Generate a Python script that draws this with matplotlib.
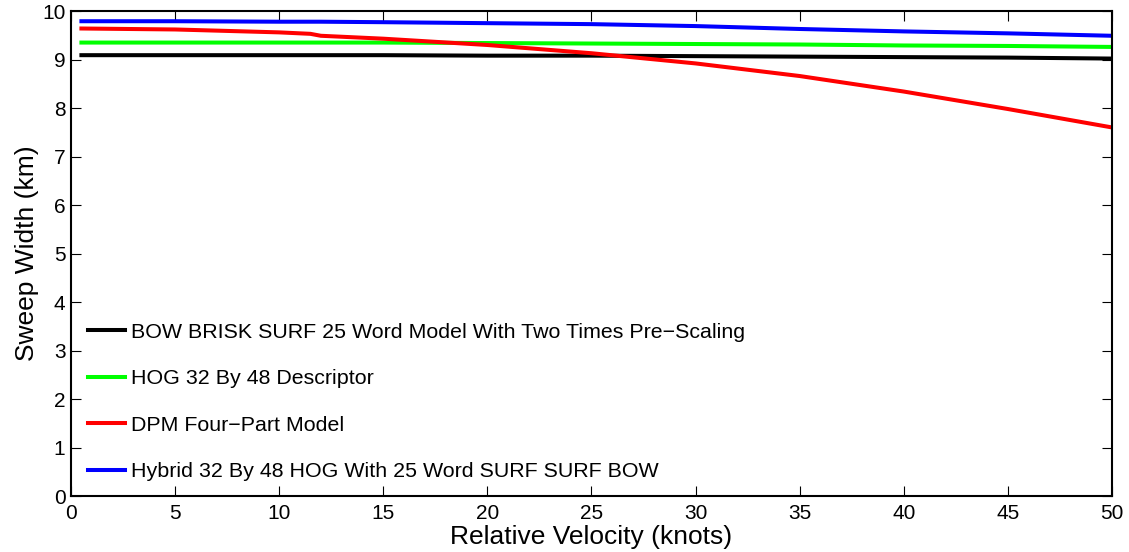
import matplotlib
matplotlib.use("Agg")
import matplotlib.pyplot as plt
import numpy as np

plt.rcParams["font.family"] = ["Liberation Sans", "DejaVu Sans"]

# values
velocity = [0.5, 5, 10, 11.5, 12, 15, 20, 25, 30, 35, 40, 45, 50]
bow_brisk = [9.09, 9.09, 9.09, 9.09, 9.09, 9.09, 9.08, 9.08, 9.07, 9.06, 9.05, 9.04, 9.02]
hog = [9.35, 9.35, 9.35, 9.35, 9.35, 9.35, 9.34, 9.33, 9.32, 9.31, 9.29, 9.28, 9.26]
dpm = [9.64, 9.62, 9.56, 9.53, 9.49, 9.43, 9.30, 9.13, 8.92, 8.66, 8.34, 7.98, 7.60]
hybrid = [9.79, 9.79, 9.78, 9.78, 9.78, 9.77, 9.75, 9.73, 9.69, 9.63, 9.58, 9.54, 9.49]

labels = [
    "BOW BRISK SURF 25 Word Model With Two Times Pre\u2212Scaling",
    "HOG 32 By 48 Descriptor",
    "DPM Four\u2212Part Model",
    "Hybrid 32 By 48 HOG With 25 Word SURF SURF BOW",
]
colors = ["black", "#00ff00", "red", "blue"]

fig = plt.figure(figsize=(11.29, 5.52), dpi=100)
ax = fig.add_axes([0.0629, 0.1014, 0.922, 0.8786])

for series, label, color in zip([bow_brisk, hog, dpm, hybrid], labels, colors):
    ax.plot(velocity, series, color=color, linewidth=2.9, label=label)

ax.set_xlim(0, 50)
ax.set_ylim(0, 10)
ax.set_xticks(np.arange(0, 51, 5))
ax.set_yticks(np.arange(0, 11, 1))
ax.tick_params(direction="in", top=True, right=True, length=7, width=0.8,
               labelsize=15, pad=4)
ax.tick_params(axis="x", pad=6)
for spine in ax.spines.values():
    spine.set_linewidth(1.5)

ax.set_xlabel("Relative Velocity (knots)", fontsize=19, labelpad=1.5)
ax.set_ylabel("Sweep Width (km)", fontsize=19, labelpad=2)

leg = ax.legend(loc="lower left", bbox_to_anchor=(0.0163, 0.03), frameon=False,
                fontsize=15.4, handlelength=1.75, handletextpad=0.25,
                labelspacing=1.29, borderaxespad=0, borderpad=0)

fig.savefig("out.png", dpi=100)
